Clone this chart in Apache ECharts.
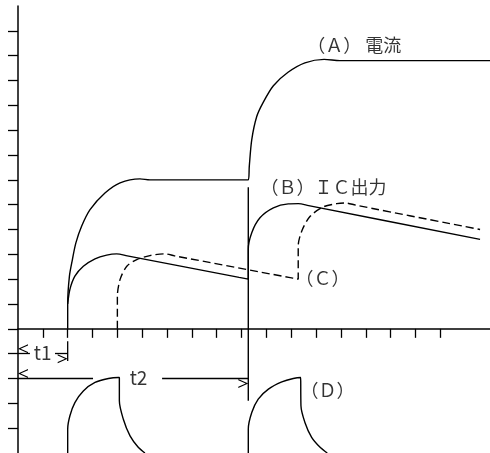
<!DOCTYPE html>
<html>
<head>
<meta charset="utf-8">
<script src="https://cdn.jsdelivr.net/npm/echarts@6/dist/echarts.min.js"></script>
<style>
  html, body { margin: 0; padding: 0; background: #fff; }
  #chart { width: 490px; height: 453px; }
</style>
</head>
<body>
<div id="chart"></div>
<script>
// (A) 電流
const currentA = [
  [2, 0], [2, 1], [2.07, 2.12], [2.19, 2.79], [2.33, 3.46], [2.56, 4.13], [2.9, 4.8],
  [3.5, 5.47], [4.11, 5.88], [4.91, 6.04], [5.31, 6.0], [5.7, 6.0], [8.9, 6.0], [9.27, 6.0],
  [9.31, 6.54], [9.41, 7.62], [9.61, 8.55], [9.86, 9.1], [10.28, 9.79], [10.87, 10.33],
  [11.55, 10.71], [12.32, 10.85], [12.96, 10.8], [13.4, 10.8], [19, 10.8]
]
// (B) IC出力
const icOutputB = [
  [2, 1], [2.09, 1.59], [2.29, 2.12], [2.63, 2.52], [3.1, 2.82], [3.57, 2.97], [3.97, 3.02],
  [4.4, 2.94], [8.9, 2.07], [9.27, 2.0], [9.27, 3.2], [9.41, 3.87], [9.74, 4.47],
  [10.28, 4.87], [10.88, 5.03], [11.28, 5.04], [11.7, 4.96], [18.6, 3.6]
]
// (C) 破線
const delayedC = [
  [4, 0], [4, 1.3], [4.11, 1.99], [4.38, 2.52], [4.78, 2.79], [5.31, 2.95], [5.9, 3.02],
  [6.3, 2.94], [10.9, 2.07], [11.28, 2.0], [11.28, 3.33], [11.42, 3.93], [11.76, 4.53],
  [12.29, 4.91], [12.83, 5.04], [13.16, 5.07], [13.6, 4.98], [18.6, 4.0]
]
// (D) パルス 2つ
const pulseD1 = [
  [2, -5], [2, -4.04], [2.09, -3.5], [2.29, -2.97], [2.63, -2.5], [3.1, -2.16], [3.64, -2.0],
  [4.04, -1.96], [4.08, -1.96], [4.08, -2.9], [4.24, -3.64], [4.51, -4.31], [4.84, -4.77], [5.11, -5]
]
const pulseD2 = [
  [9.27, -5], [9.27, -4.04], [9.41, -3.37], [9.67, -2.83], [10.08, -2.43], [10.62, -2.14],
  [11.08, -2.0], [11.38, -1.96], [11.39, -1.96], [11.39, -3.1], [11.55, -3.77], [11.82, -4.37],
  [12.16, -4.77], [12.45, -5]
]

// 目盛り
const xTicks = [1, 2, 3, 4, 5, 6, 7, 8, 9, 10, 11, 12, 13, 14, 15, 16, 17]
const yTicks = [-4, -3, -2, -1, 0, 1, 2, 3, 4, 5, 6, 7, 8, 9, 10, 11, 12]

// 補助線
const t1Bar = [[2, -0.5], [2, -1.3]]
const t2Bar = [[9.27, 5.7], [9.27, -2.9]]
const arrows = [
  [[0.48, -1], [0, -1]],
  [[1.49, -1], [2, -1]],
  [[3.02, -2], [0, -2]],
  [[5.8, -2], [9.27, -2]]
]

// ラベル
const labelNames = ['（Ａ） 電流', '（Ｂ）ＩＣ出力', '（Ｃ）', '（Ｄ）']
const labelPos = [[11.62, 11.42], [9.74, 5.7], [11.15, 2.05], [11.35, -2.47]]
const timeNames = ['t1', 't2']
const timePos = [[0.99, -0.98], [4.85, -1.99]]

const FONT = '"Noto Sans CJK JP", "Noto Sans", sans-serif'
const chevron = 'path://M0,10 L5,0 L10,10 L8.6,10 L5,2.6 L1.4,10 Z'

function curve(name, data, dashed) {
  return {
    name: name,
    type: 'line',
    data: data,
    smooth: 0.3,
    symbol: 'none',
    silent: true,
    lineStyle: { color: '#000', width: 1.4, type: dashed ? [8, 4] : 'solid' }
  }
}

const chart = echarts.init(document.getElementById('chart'))
chart.setOption({
  animation: false,
  grid: { left: 18, right: 0, top: 6, bottom: -1 },
  xAxis: {
    type: 'value',
    min: 0,
    max: 19,
    axisLine: { onZero: true, lineStyle: { color: '#000', width: 1.5 } },
    axisTick: { show: true, customValues: xTicks, length: 9, lineStyle: { color: '#000', width: 1.3 } },
    axisLabel: { show: false },
    splitLine: { show: false }
  },
  yAxis: {
    type: 'value',
    min: -5,
    max: 13,
    axisLine: { show: true, onZero: false, lineStyle: { color: '#000', width: 1.5 } },
    axisTick: { show: true, customValues: yTicks, length: 10, lineStyle: { color: '#000', width: 1.3 } },
    axisLabel: { show: false },
    splitLine: { show: false }
  },
  series: [
    curve('A', currentA),
    curve('B', icOutputB),
    curve('C', delayedC, true),
    curve('D1', pulseD1),
    curve('D2', pulseD2),
    {
      type: 'line',
      data: t1Bar,
      symbol: 'none',
      silent: true,
      lineStyle: { color: '#000', width: 1.3 }
    },
    {
      type: 'line',
      data: t2Bar,
      symbol: 'none',
      silent: true,
      lineStyle: { color: '#000', width: 1.4 },
      markLine: {
        silent: true,
        symbol: ['none', chevron],
        symbolSize: [9, 10],
        symbolOffset: [0, 5],
        label: { show: false },
        lineStyle: { color: '#000', width: 1.3, type: 'solid' },
        data: arrows.map(a => [{ coord: a[0] }, { coord: a[1] }])
      }
    },
    {
      type: 'scatter',
      silent: true,
      symbolSize: 1,
      itemStyle: { color: 'rgba(0,0,0,0)' },
      data: labelNames.map((n, i) => ({ name: n, value: labelPos[i] })),
      label: {
        show: true,
        position: 'right',
        distance: 0,
        formatter: '{b}',
        color: '#000',
        fontSize: 18,
        fontFamily: FONT
      }
    },
    {
      type: 'scatter',
      silent: true,
      symbolSize: 1,
      itemStyle: { color: 'rgba(0,0,0,0)' },
      data: timeNames.map((n, i) => ({ name: n, value: timePos[i] })),
      label: {
        show: true,
        position: 'inside',
        formatter: '{b}',
        color: '#000',
        fontSize: 19,
        fontFamily: FONT
      }
    }
  ]
})
</script>
</body>
</html>
